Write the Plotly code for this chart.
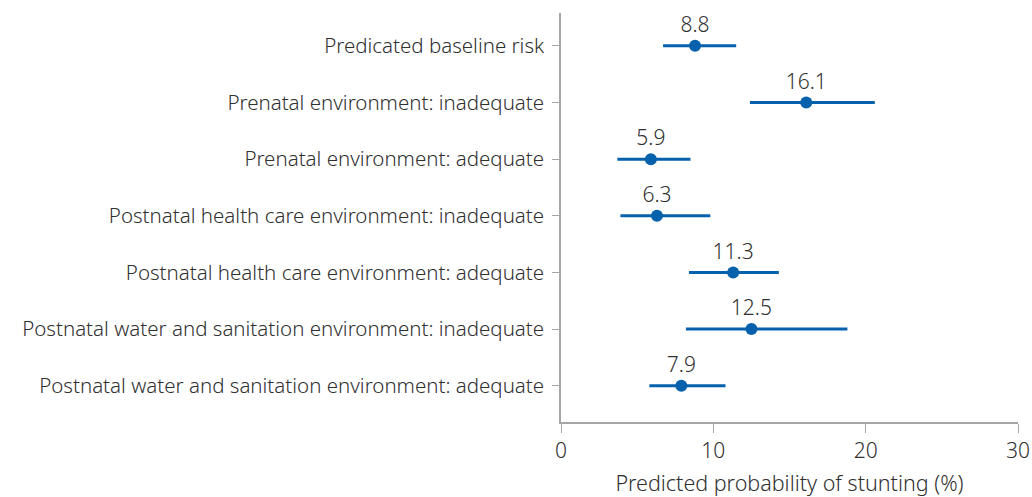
import plotly.graph_objects as go

categories = [
    "Predicated baseline risk",
    "Prenatal environment: inadequate",
    "Prenatal environment: adequate",
    "Postnatal health care environment: inadequate",
    "Postnatal health care environment: adequate",
    "Postnatal water and sanitation environment: inadequate",
    "Postnatal water and sanitation environment: adequate",
]
estimate = [8.8, 16.1, 5.9, 6.3, 11.3, 12.5, 7.9]
ci_low = [6.7, 12.4, 3.7, 3.9, 8.4, 8.2, 5.8]
ci_high = [11.5, 20.6, 8.5, 9.8, 14.3, 18.8, 10.8]

blue = "#0561AC"
axis_gray = "#A6A6A6"
text_col = "#303030"
font_family = "Noto Sans, Open Sans, sans-serif"

ypos = list(range(len(categories)))

fig = go.Figure()
fig.add_trace(go.Scatter(
    x=estimate,
    y=ypos,
    mode="markers+text",
    text=[f"{v:.1f}" for v in estimate],
    textposition="top center",
    textfont=dict(size=21, color=text_col, family=font_family, weight=300),
    marker=dict(size=12, color=blue),
    error_x=dict(
        type="data",
        symmetric=False,
        array=[h - e for h, e in zip(ci_high, estimate)],
        arrayminus=[e - l for e, l in zip(estimate, ci_low)],
        color=blue,
        thickness=3,
        width=0,
    ),
    showlegend=False,
    cliponaxis=False,
))

fig.update_layout(
    width=1032,
    height=497,
    margin=dict(l=561, r=14, t=13, b=75, autoexpand=False),
    paper_bgcolor="white",
    plot_bgcolor="white",
    font=dict(family=font_family, size=20.5, color=text_col, weight=300),
    xaxis=dict(
        range=[0, 30],
        tickvals=[0, 10, 20, 30],
        showgrid=False,
        zeroline=False,
        showline=True,
        linecolor=axis_gray,
        linewidth=1.5,
        ticks="outside",
        ticklen=9,
        tickcolor=axis_gray,
        tickfont=dict(size=21, color=text_col, weight=300),
        automargin=False,
        title=dict(text="Predicted probability of stunting (%)",
                   font=dict(size=21.5, color=text_col, weight=300), standoff=24),
    ),
    yaxis=dict(
        range=[6.64, -0.58],
        tickvals=ypos,
        ticktext=categories,
        showgrid=False,
        zeroline=False,
        showline=True,
        linecolor=axis_gray,
        linewidth=1.5,
        ticks="outside",
        ticklen=7,
        tickcolor=axis_gray,
        tickfont=dict(size=20.5, color=text_col, weight=300),
        automargin=False,
        ticklabelstandoff=4,
    ),
)

fig.write_html("out.html")
